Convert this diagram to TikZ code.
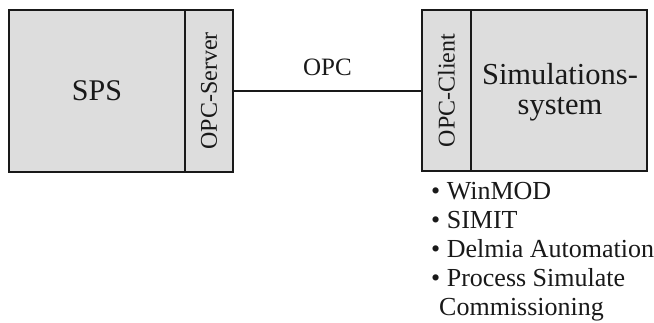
\documentclass[tikz,border=0pt]{standalone}
\usepackage{fontspec}
\setmainfont{Liberation Serif}
\usetikzlibrary{calc}
\definecolor{boxgray}{RGB}{221,221,221}
\definecolor{ink}{RGB}{25,25,25}
\tikzset{
  cell/.style={draw=ink, line width=1.8pt, fill=boxgray, inner sep=0pt, text=ink},
  link/.style={draw=ink, line width=2.6pt},
}
\begin{document}
\begin{tikzpicture}[x=1pt, y=-1pt]
  \useasboundingbox (0,0) rectangle (654,323);
  % PLC side
  \node[cell, minimum width=176pt, minimum height=162pt, font=\fontsize{30}{34}\selectfont] (sps) at (97,91) {SPS};
  \node[cell, minimum width=48pt, minimum height=162pt] (server) at (209,91) {};
  \node[rotate=90, font=\fontsize{24}{28}\selectfont, text=ink] (servertxt) at (server.center) {OPC-Server};
  % simulation side
  \node[cell, minimum width=49pt, minimum height=161pt] (client) at (446.5,90.5) {};
  \node[rotate=90, font=\fontsize{24}{28}\selectfont, text=ink] (clienttxt) at (client.center) {OPC-Client};
  \node[cell, minimum width=176pt, minimum height=161pt] (sim) at (559,90.5) {};
  \node[align=center, text=ink, anchor=base, font=\fontsize{30.5}{30}\selectfont] (simtxt) at (560,115) {Simulations-\\system};
  % OPC connection
  \draw[link] (server.east |- 0,91) coordinate (l1) -- (client.west |- 0,91) coordinate (l2);
  \node[font=\fontsize{25}{28}\selectfont, text=ink, anchor=base] (opc) at ($(l1)!0.5!(l2) + (0,-15)$) {OPC};
  % tool list
  \node[anchor=base west, align=left, inner sep=0pt, text=ink, font=\fontsize{26}{29}\selectfont] (tools) at (431,316)
    {\textbullet\ WinMOD\\
     \textbullet\ SIMIT\\
     \textbullet\ Delmia Automation\\
     \textbullet\ Process Simulate\\
     \hspace*{8pt}Commissioning};
\end{tikzpicture}
\end{document}
